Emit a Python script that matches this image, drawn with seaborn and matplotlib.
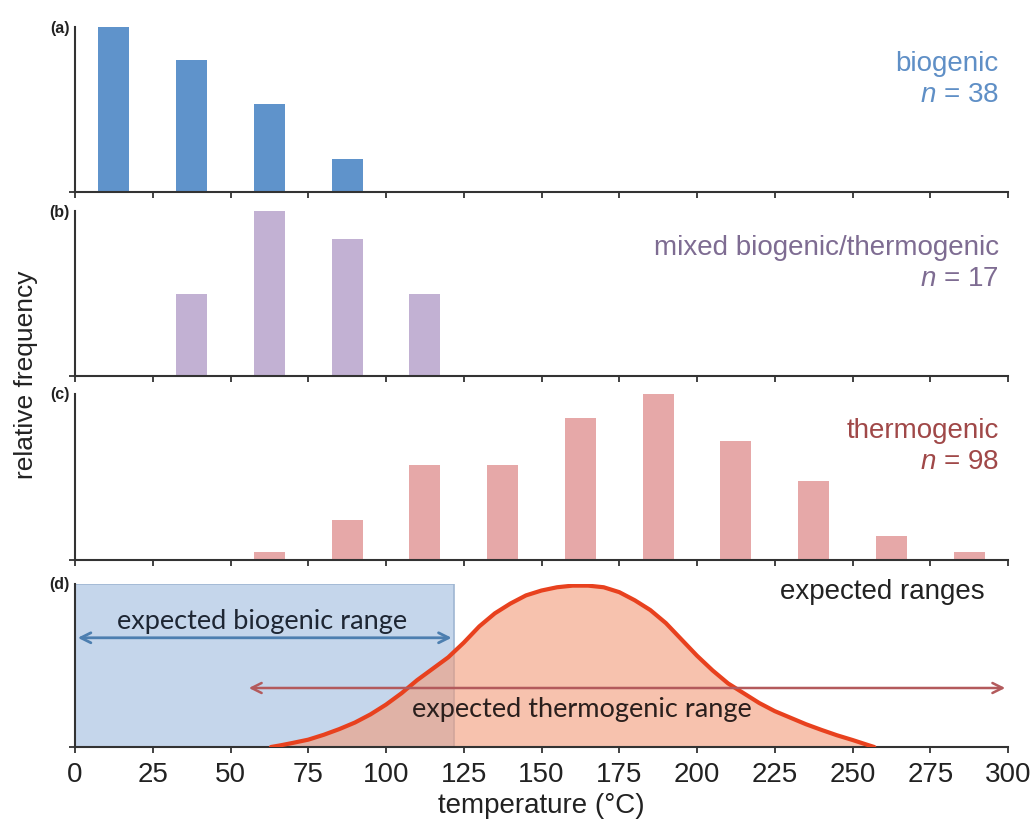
import numpy as np
import pandas as pd
import matplotlib
matplotlib.use("Agg")
import matplotlib.pyplot as plt
import seaborn as sns
from matplotlib.patches import Rectangle

# ---- data ----
bin_centers_a = [12.5, 37.5, 62.5, 87.5]
counts_a = [15, 12, 8, 3]          # biogenic, n = 38
bin_centers_b = [37.5, 62.5, 87.5, 112.5]
counts_b = [3, 6, 5, 3]            # mixed, n = 17
bin_centers_c = [62.5, 87.5, 112.5, 137.5, 162.5, 187.5, 212.5, 237.5, 262.5, 287.5]
counts_c = [1, 5, 12, 12, 18, 21, 15, 10, 3, 1]   # thermogenic, n = 98

curve_x = [63, 66, 70, 75, 80, 85, 90, 95, 100, 105, 110, 115, 120, 125, 130, 135, 140, 145,
           150, 155, 160, 165, 170, 175, 180, 185, 190, 195, 200, 205, 210, 215, 220, 225,
           230, 235, 240, 245, 250, 255, 257]
curve_y = [0.0, 0.01, 0.025, 0.045, 0.075, 0.11, 0.15, 0.2, 0.26, 0.33, 0.41, 0.48, 0.55, 0.64,
           0.74, 0.82, 0.88, 0.93, 0.96, 0.98, 0.99, 0.99, 0.98, 0.95, 0.9, 0.84, 0.76, 0.66,
           0.56, 0.47, 0.39, 0.33, 0.27, 0.22, 0.18, 0.14, 0.105, 0.072, 0.043, 0.012, 0.0]

biogenic_range = (0, 122)
thermogenic_range = (55, 300)
xticks = [0, 25, 50, 75, 100, 125, 150, 175, 200, 225, 250, 275, 300]

panel_letters = ["a", "b", "c", "d"]
series_labels = ["biogenic\n$n$ = 38", "mixed biogenic/thermogenic\n$n$ = 17", "thermogenic\n$n$ = 98", "expected ranges"]

sns.set_theme(style="white")
plt.rcParams["font.family"] = ["Liberation Sans", "DejaVu Sans"]
plt.rcParams["mathtext.fontset"] = "custom"
plt.rcParams["mathtext.it"] = "Liberation Sans:italic"
plt.rcParams["mathtext.rm"] = "Liberation Sans"

fig = plt.figure(figsize=(10.35, 8.28), dpi=100)
L, R = 75 / 1035, 1008 / 1035
tops = [28, 212, 395, 585]
bots = [193, 377, 561, 748]
axes = []
for t, b in zip(tops, bots):
    axes.append(fig.add_axes([L, 1 - b / 828, R - L, (b - t) / 828]))

bar_specs = [
    (bin_centers_a, counts_a, "#5f93cb", "#5f8fc6"),
    (bin_centers_b, counts_b, "#c2b1d3", "#7e6c92"),
    (bin_centers_c, counts_c, "#e6a8a8", "#a04848"),
]

spine_col = "#333333"
for i, ax in enumerate(axes):
    if i < 3:
        xs, ys, col, tcol = bar_specs[i]
        df = pd.DataFrame({"x": xs, "y": ys})
        sns.barplot(data=df, x="x", y="y", native_scale=True, width=0.4,
                    color=col, saturation=1, ax=ax, linewidth=0)
        ax.set_ylim(0, max(ys))
        ax.text(0.99, 0.86, series_labels[i], transform=ax.transAxes, ha="right", va="top",
                fontsize=20, color=tcol, linespacing=1.25)
        ax.set_xticklabels([])
    ax.set_xlim(0, 300)
    ax.set_xticks(xticks)
    ax.set_yticks([0])
    ax.set_yticklabels([])
    ax.set_xlabel("")
    ax.set_ylabel("")
    for s in ["top", "right"]:
        ax.spines[s].set_visible(False)
    for s in ["left", "bottom"]:
        ax.spines[s].set_color(spine_col)
        ax.spines[s].set_linewidth(1.5)
    ax.tick_params(axis="both", direction="out", length=4, width=1.3, color=spine_col, bottom=True, left=True)
    ax.text(-0.006, 1.0, f"({panel_letters[i]})", transform=ax.transAxes, ha="right", va="center",
            fontsize=11.5, fontweight="bold", color="#222222")

# ---- panel d ----
ax = axes[3]
ax.set_ylim(0, 1.0)
ax.add_patch(Rectangle((biogenic_range[0], 0), biogenic_range[1] - biogenic_range[0], 1.0,
                       facecolor="#c5d6eb", edgecolor="#9fb6d2", linewidth=1.2, zorder=1))
ax.fill_between(curve_x, 0, curve_y, color="#f39a78", alpha=0.6, linewidth=0, zorder=2)
sns.lineplot(x=curve_x, y=curve_y, color="#e8411e", linewidth=3, ax=ax, zorder=4)
ax.annotate("", xy=(biogenic_range[0], 0.67), xytext=(biogenic_range[1], 0.67),
            arrowprops=dict(arrowstyle="<->", color="#4d7fb0", lw=2, mutation_scale=18), zorder=5)
ax.annotate("", xy=(thermogenic_range[0], 0.362), xytext=(thermogenic_range[1], 0.362),
            arrowprops=dict(arrowstyle="<->", color="#b35a5c", lw=1.8, mutation_scale=18), zorder=5)
ax.text(60, 0.775, "expected biogenic range", ha="center", va="center", fontsize=19.5,
        family=["Lato", "DejaVu Sans"], color="#1e2633", zorder=6)
ax.text(163, 0.235, "expected thermogenic range", ha="center", va="center", fontsize=19.5,
        family=["Lato", "DejaVu Sans"], color="#2a1f1d", zorder=6)
ax.text(0.975, 0.96, series_labels[3], transform=ax.transAxes, ha="right", va="center",
        fontsize=20, color="#222222")
ax.set_xticklabels([str(v) for v in xticks], fontsize=20, color="#222222")
ax.tick_params(axis="x", pad=6)
ax.set_xlabel("temperature (°C)", fontsize=20, color="#222222", labelpad=4)

fig.text(0.025, 0.548, "relative frequency", rotation=90, ha="center", va="center",
         fontsize=19, color="#222222")

fig.savefig("out.png", dpi=100)
